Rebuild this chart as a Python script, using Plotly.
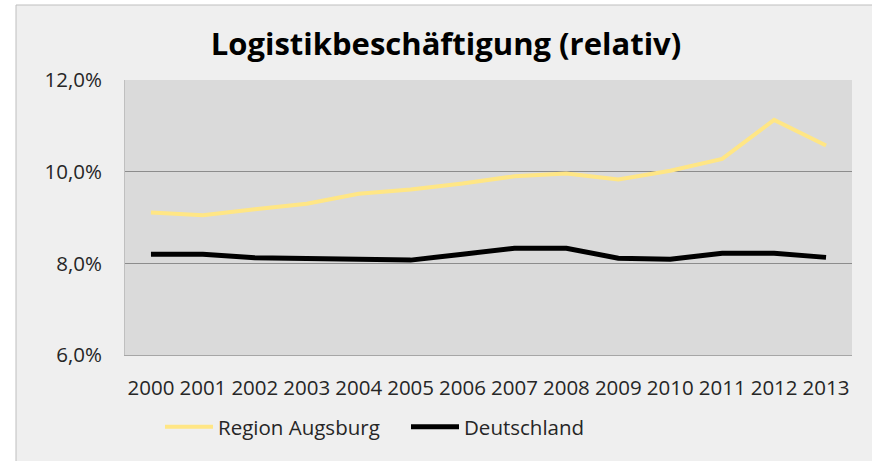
import plotly.graph_objects as go

years = ["2000", "2001", "2002", "2003", "2004", "2005", "2006", "2007",
         "2008", "2009", "2010", "2011", "2012", "2013"]
region_augsburg = [9.11, 9.05, 9.18, 9.30, 9.52, 9.61, 9.74, 9.90,
                   9.96, 9.83, 10.02, 10.28, 11.13, 10.57]
deutschland = [8.20, 8.20, 8.12, 8.10, 8.10, 8.07, 8.20, 8.33,
               8.33, 8.11, 8.09, 8.22, 8.22, 8.13]
y_ticks = [6, 8, 10, 12]
y_tick_labels = ["6,0%", "8,0%", "10,0%", "12,0%"]

FONT = "Open Sans"
W, H = 872, 461
L, R, T, B = 125, 20, 80, 106
pw, ph = W - L - R, H - T - B

fig = go.Figure()
fig.add_trace(go.Scatter(x=years, y=region_augsburg, name="Region Augsburg",
                         mode="lines", line=dict(color="#FFE685", width=4)))
fig.add_trace(go.Scatter(x=years, y=deutschland, name="Deutschland",
                         mode="lines", line=dict(color="#000000", width=5)))

# outer chart frame (light grey panel with thin border)
fig.add_shape(type="rect", xref="paper", yref="paper", layer="below",
              x0=(16 - L) / pw, x1=(W + 10 - L) / pw,
              y0=(ph + T - (H + 10)) / ph, y1=(ph + T - 5) / ph,
              fillcolor="#EFEFEF", line=dict(color="#BFBFBF", width=1))
# plot area background
fig.add_shape(type="rect", xref="x domain", yref="y domain", layer="below",
              x0=0, x1=1, y0=0, y1=1,
              fillcolor="#DADADA", line=dict(width=0))

fig.update_layout(
    width=W, height=H,
    margin=dict(l=L, r=R, t=T, b=B),
    paper_bgcolor="#FFFFFF",
    plot_bgcolor="#DADADA",
    title=dict(text="<b>Logistikbeschäftigung (relativ)</b>",
               x=446 / W, xanchor="center",
               y=1 - 44 / H, yanchor="middle",
               font=dict(family=FONT, size=31, color="#000000")),
    font=dict(family=FONT, color="#262626"),
    showlegend=True,
    legend=dict(orientation="h", x=(160 - L) / pw, xanchor="left",
                y=(ph + T - 427) / ph, yanchor="middle",
                bgcolor="rgba(0,0,0,0)",
                font=dict(family=FONT, size=20.5, color="#262626"),
                entrywidth=183, entrywidthmode="pixels",
                itemwidth=48),
    xaxis=dict(type="category", range=[-0.5, 13.5], showgrid=False,
               showline=True, linecolor="#A6A6A6", linewidth=1,
               ticks="", ticklabelstandoff=14,
               tickfont=dict(family=FONT, size=20.5, color="#262626"),
               fixedrange=True),
    yaxis=dict(range=[6, 12], tickvals=y_ticks, ticktext=y_tick_labels,
               showgrid=True, gridcolor="#8C8C8C", gridwidth=1,
               showline=True, linecolor="#BFBFBF", linewidth=1,
               zeroline=False, ticks="", ticklabelstandoff=18,
               tickfont=dict(family=FONT, size=20.5, color="#262626"),
               fixedrange=True),
)

fig.write_html("out.html", config={"displayModeBar": False},
               post_script="document.body.style.margin='0';")
